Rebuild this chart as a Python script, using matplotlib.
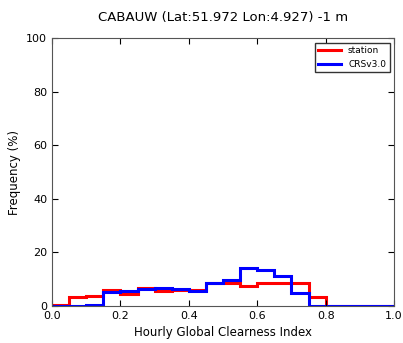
import numpy as np
import matplotlib.pyplot as plt

# clearness index bins (width 0.05) and frequency per bin in %
edges = np.linspace(0.0, 1.0, 21)
station = [0.5, 3.2, 3.9, 6.1, 4.5, 6.7, 5.6, 6.1, 5.9, 8.5,
           8.5, 7.6, 8.7, 8.5, 8.7, 3.5, 0.0, 0.0, 0.0, 0.0]
crs = [0.0, 0.0, 0.5, 5.1, 5.4, 6.2, 6.6, 6.2, 5.5, 8.5,
       9.6, 14.1, 13.5, 11.2, 5.0, 0.0, 0.0, 0.0, 0.0, 0.0]

fig = plt.figure(figsize=(4.03, 3.43), dpi=100)
ax = fig.add_axes([0.129, 0.108, 0.849, 0.781])

ax.stairs(station, edges, color='red', lw=2.2, label='station')
ax.stairs(crs, edges, color='blue', lw=2.2, label='CRSv3.0')

ax.set_xlim(0, 1)
ax.set_ylim(0, 100)
ax.set_xticks(np.arange(0, 1.01, 0.2))
ax.set_yticks(np.arange(0, 101, 20))
ax.tick_params(direction='in', top=True, right=True, labelsize=8, length=4)
for s in ax.spines.values():
    s.set_color('#555555')
ax.set_xlabel('Hourly Global Clearness Index', fontsize=8.5)
ax.set_ylabel('Frequency (%)', fontsize=8.5)
ax.set_title('CABAUW (Lat:51.972 Lon:4.927) -1 m', fontsize=9.5, pad=12)

leg = ax.legend(loc='upper right', fontsize=6.5, fancybox=False, framealpha=1,
                handlelength=2.5)
leg.get_frame().set_edgecolor('#333333')

plt.savefig('out.png', dpi=100)
